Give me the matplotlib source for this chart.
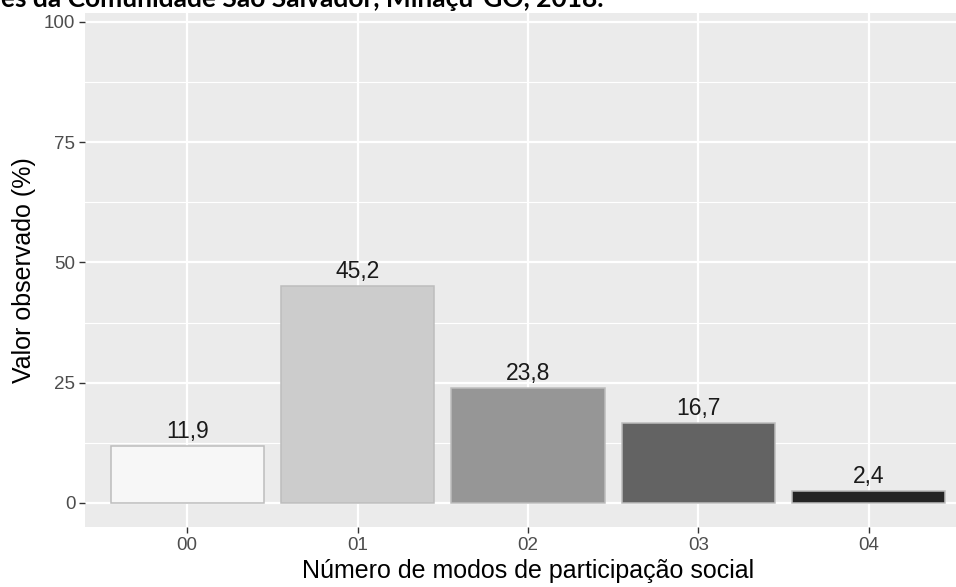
import matplotlib
matplotlib.use("Agg")
import matplotlib.pyplot as plt
from matplotlib.ticker import MultipleLocator

categories = ["00", "01", "02", "03", "04"]
values = [11.9, 45.2, 23.8, 16.7, 2.4]
labels = ["11,9", "45,2", "23,8", "16,7", "2,4"]
colors = ["#F7F7F7", "#CCCCCC", "#969696", "#636363", "#252525"]
yticks = [0, 25, 50, 75, 100]
title_text = "es da Comunidade São Salvador, Minaçu-GO, 2018."
xlabel = "Número de modos de participação social"
ylabel = "Valor observado (%)"

plt.rcParams['font.family'] = ['Liberation Sans', 'DejaVu Sans']

W, H = 956, 587
fig = plt.figure(figsize=(W / 100, H / 100), dpi=100)
ax = fig.add_axes([85 / W, 60 / H, 886 / W, 514 / H])
ax.set_facecolor("#EBEBEB")
for s in ax.spines.values():
    s.set_visible(False)

x = list(range(len(categories)))
ax.bar(x, values, width=0.9, color=colors, edgecolor="#BDBDBD", linewidth=1.1, zorder=3)
for xi, v, lab in zip(x, values, labels):
    ax.annotate(lab, (xi, v), xytext=(0, 5.8), textcoords="offset points",
                ha="center", va="baseline", fontsize=16.5, color="#1A1A1A", zorder=4)

ax.set_xlim(-0.6, 4.6)
ax.set_ylim(-5, 101.87)
ax.set_xticks(x)
ax.set_xticklabels(categories)
ax.set_yticks(yticks)
ax.yaxis.set_minor_locator(MultipleLocator(12.5))
ax.grid(True, which="major", color="white", linewidth=1.6, zorder=0)
ax.grid(True, which="minor", axis="y", color="white", linewidth=0.8, zorder=0)
ax.set_axisbelow(True)
ax.tick_params(axis="both", which="major", length=4, width=1.0, color="#333333",
               labelcolor="#4D4D4D", labelsize=13.5, pad=3)
ax.tick_params(axis="y", which="minor", length=0)

ax.set_xlabel(xlabel, fontsize=18, color="black", labelpad=4)
ax.set_ylabel(ylabel, fontsize=18, color="black", labelpad=6)

fig.text(1 / W, 1 - 7 / H, title_text, fontsize=19, fontweight="bold",
         family=["Lato", "DejaVu Sans"], ha="left", va="baseline", color="black")

fig.savefig("out.png", dpi=100)
